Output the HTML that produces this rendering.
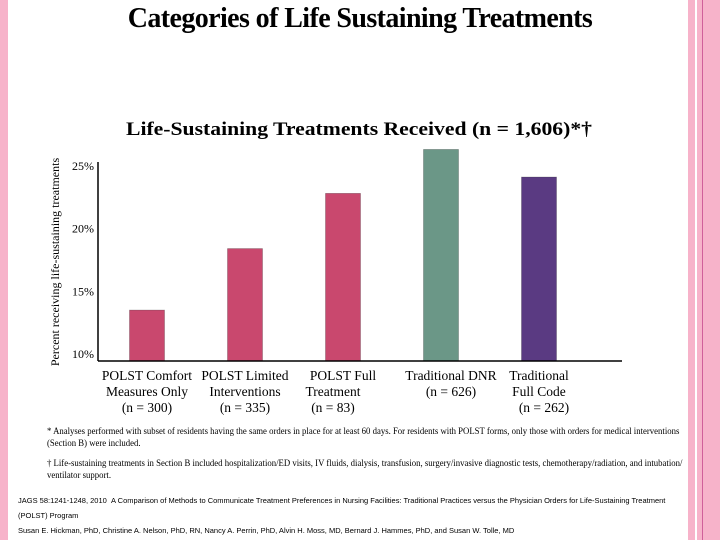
<!DOCTYPE html>
<html><head><meta charset="utf-8"><style>
body{margin:0;width:720px;height:540px;background:#fff;position:relative;overflow:hidden;font-family:"Liberation Serif",serif}
.abs{position:absolute}
</style></head><body>
<div class="abs" style="left:0;top:0;width:8px;height:540px;background:#f7b3ca"></div>
<div class="abs" style="left:688px;top:0;width:7px;height:540px;background:#f7b3ca"></div>
<div class="abs" style="left:697px;top:0;width:23px;height:540px;background:#f7b3ca"></div>
<div class="abs" style="left:702px;top:0;width:1px;height:540px;background:#d0609a"></div>
<div class="abs" style="left:0;width:720px;top:3px;text-align:center;font-weight:bold;font-size:28px;letter-spacing:-0.6px">Categories of Life Sustaining Treatments</div>
<svg class="abs" style="left:0;top:0" width="720" height="540">
<text x="359" y="135" text-anchor="middle" font-size="19" font-weight="bold" font-family="Liberation Serif" textLength="466" lengthAdjust="spacingAndGlyphs">Life-Sustaining Treatments Received (n = 1,606)*†</text>
<text transform="translate(59,262) rotate(-90)" text-anchor="middle" font-size="12" font-family="Liberation Serif">Percent receiving life-sustaining treatments</text>
<g id="ticks"></g><g id="bars"></g><g id="cats"></g>
<line x1="98" y1="162" x2="98" y2="361" stroke="#000" stroke-width="1.5"/>
<line x1="98" y1="361" x2="622" y2="361" stroke="#000" stroke-width="1.5"/>
</svg>
<div class="abs" style="left:47px;top:425px;width:720px;font-size:9px;line-height:12px;transform:scaleX(0.97);transform-origin:left">* Analyses performed with subset of residents having the same orders in place for at least 60 days. For residents with POLST forms, only those with orders for medical interventions<br>(Section B) were included.</div>
<div class="abs" style="left:47px;top:457px;width:740px;font-size:9px;line-height:12px;transform:scaleX(0.97);transform-origin:left">† Life-sustaining treatments in Section B included hospitalization/ED visits, IV fluids, dialysis, transfusion, surgery/invasive diagnostic tests, chemotherapy/radiation, and intubation/<br>ventilator support.</div>
<div class="abs" style="left:18px;top:493px;width:660px;font-family:'Liberation Sans',sans-serif;font-size:7.5px;line-height:15px">JAGS 58:1241-1248, 2010 &nbsp;A Comparison of Methods to Communicate Treatment Preferences in Nursing Facilities: Traditional Practices versus the Physician Orders for Life-Sustaining Treatment<br>(POLST) Program<br>Susan E. Hickman, PhD, Christine A. Nelson, PhD, RN, Nancy A. Perrin, PhD, Alvin H. Moss, MD, Bernard J. Hammes, PhD, and Susan W. Tolle, MD</div>
<script>
const categories=[["POLST Comfort","Measures Only","(n = 300)"],["POLST Limited","Interventions","(n = 335)"],["POLST Full","Treatment","(n = 83)"],["Traditional DNR","(n = 626)",""],["Traditional","Full Code","(n = 262)"]];
const values=[13.5,18.4,22.8,26.3,24.1];
const colors=["#c9486e","#c9486e","#c9486e","#6b9787","#5a3a82"];
const tickValues=[10,15,20,25];
const tickLabels=["10%","15%","20%","25%"];
const NS="http://www.w3.org/2000/svg";
function y(v){return 354-(v-10)*12.55;}
function x(i){return 147+i*98;}
const bw=35,base=361;
const tg=document.getElementById('ticks');
tickValues.forEach((v,i)=>{const t=document.createElementNS(NS,'text');


t.setAttribute('x',94);t.setAttribute('y',y(v)+4);t.setAttribute('text-anchor','end');t.setAttribute('font-size','12');t.setAttribute('font-family','Liberation Serif');t.textContent=tickLabels[i];tg.appendChild(t);});
const bg=document.getElementById('bars');
values.forEach((v,i)=>{const r=document.createElementNS(NS,'rect');


r.setAttribute('x',x(i)-bw/2);r.setAttribute('y',y(v));r.setAttribute('width',bw);r.setAttribute('height',base-y(v));r.setAttribute('fill',colors[i]);r.setAttribute('stroke','rgba(0,0,0,0.3)');r.setAttribute('stroke-width','0.7');bg.appendChild(r);});
const cg=document.getElementById('cats');
categories.forEach((c,i)=>{c.forEach((line,j)=>{if(!line)return;const t=document.createElementNS(NS,'text');


let cx=x(i);if(i===2&&j>0)cx-=10;if(i===3)cx+=10;if(i===4&&j===2)cx+=5;
t.setAttribute('x',cx);t.setAttribute('y',380+j*16);t.setAttribute('text-anchor','middle');t.setAttribute('font-size','13.5');t.setAttribute('font-family','Liberation Serif');t.textContent=line;cg.appendChild(t);});});
</script>
</body></html>
